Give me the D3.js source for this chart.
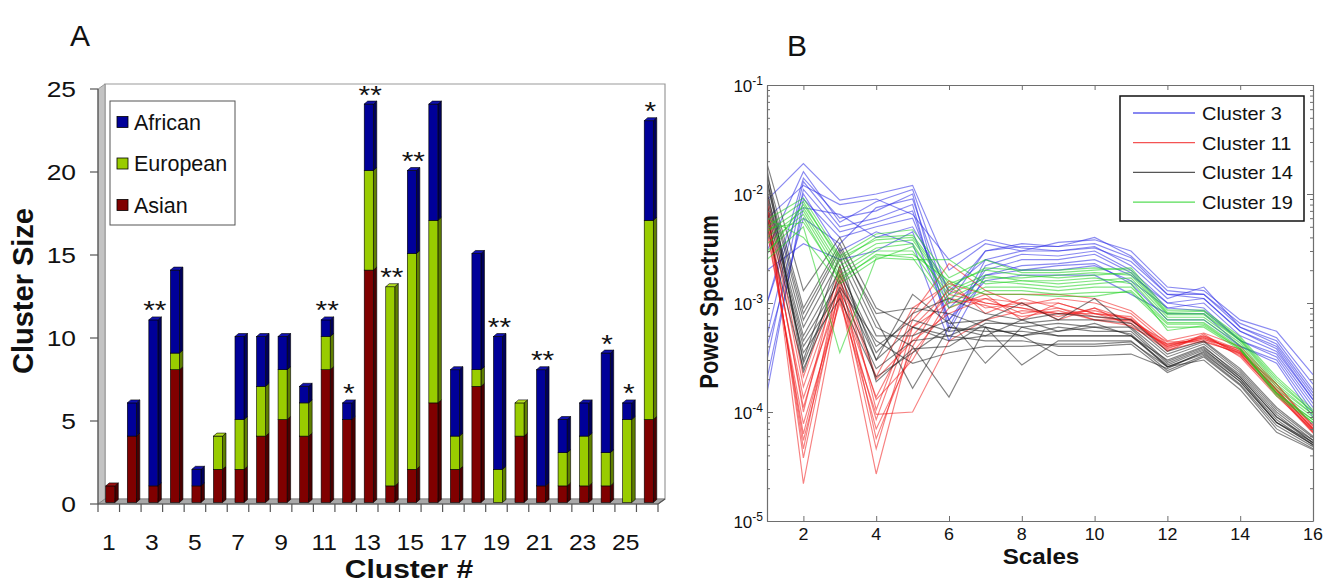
<!DOCTYPE html>
<html>
<head>
<meta charset="utf-8">
<script src="https://cdn.jsdelivr.net/npm/d3@7"></script>
<style>
  body { margin: 0; background: #fff; }
  svg { display: block; }
  text { font-family: "Liberation Sans", Arial, sans-serif; fill: #111; }
</style>
</head>
<body>
<svg id="chart" width="1326" height="583"></svg>
<script>
// ---------- Panel A: ancestry composition of each cluster ----------
const clusters = d3.range(1, 27);
const asian    = [1, 4, 1, 8, 1, 2, 2, 4, 5, 4, 8, 5, 14, 1, 2, 6, 2, 7, 0, 4, 1, 1, 1, 1, 0, 5];
const european = [0, 0, 0, 1, 0, 2, 3, 3, 3, 2, 2, 0, 6, 12, 13, 11, 2, 1, 2, 2, 0, 2, 3, 2, 5, 12];
const african  = [0, 2, 10, 5, 1, 0, 5, 3, 2, 1, 1, 1, 4, 0, 5, 7, 4, 7, 8, 0, 7, 2, 2, 6, 1, 6];
const significance = ["", "", "**", "", "", "", "", "", "", "", "**", "*", "**", "**", "**", "", "", "", "**", "", "**", "", "", "*", "*", "*"];
const sizeTicks = [0, 5, 10, 15, 20, 25];
const groupNames = ["Asian", "European", "African"];

// ---------- Panel B: power spectra of the members of four clusters ----------
const scales = d3.range(1, 17);
const powerTicks = [1e-5, 1e-4, 1e-3, 1e-2, 1e-1];
const scaleTicks = [2, 4, 6, 8, 10, 12, 14, 16];

const cluster3 = [
  [8.8e-3, 1.9e-2, 8.8e-3, 1.0e-2, 1.2e-2, 2.0e-3, 3.5e-3, 3.0e-3, 3.6e-3, 3.8e-3, 3.0e-3, 1.4e-3, 1.3e-3, 7.0e-4, 5.5e-4, 2.2e-4],
  [3.0e-3, 1.6e-2, 5.5e-3, 8.5e-3, 1.1e-2, 1.2e-3, 3.0e-3, 3.3e-3, 3.3e-3, 3.5e-3, 2.6e-3, 1.2e-3, 1.2e-3, 6.5e-4, 4.8e-4, 1.8e-4],
  [1.0e-3, 1.4e-2, 6.0e-3, 7.0e-3, 1.0e-2, 6.0e-4, 2.5e-3, 3.0e-3, 3.0e-3, 3.3e-3, 2.2e-3, 1.1e-3, 1.4e-3, 6.0e-4, 4.5e-4, 1.6e-4],
  [5.0e-4, 1.3e-2, 5.0e-3, 6.0e-3, 8.0e-3, 5.5e-4, 2.2e-3, 2.8e-3, 2.7e-3, 3.0e-3, 2.0e-3, 1.0e-3, 1.1e-3, 5.5e-4, 4.0e-4, 1.4e-4],
  [3.0e-4, 1.1e-2, 4.5e-3, 5.5e-3, 7.0e-3, 7.0e-4, 2.0e-3, 2.5e-3, 2.5e-3, 2.8e-3, 1.9e-3, 9.0e-4, 1.0e-3, 5.0e-4, 3.6e-4, 1.3e-4],
  [1.5e-4, 9.0e-3, 4.0e-3, 5.0e-3, 6.0e-3, 9.0e-4, 1.8e-3, 2.2e-3, 2.3e-3, 2.5e-3, 1.8e-3, 1.0e-3, 9.0e-4, 4.5e-4, 3.4e-4, 1.2e-4],
  [2.0e-4, 7.5e-3, 6.5e-3, 4.0e-3, 5.0e-3, 1.3e-3, 2.5e-3, 2.0e-3, 2.0e-3, 2.2e-3, 1.6e-3, 9.0e-4, 8.5e-4, 4.5e-4, 3.2e-4, 1.1e-4],
  [4.0e-4, 6.0e-3, 3.5e-3, 7.5e-3, 9.0e-3, 1.0e-3, 3.0e-3, 3.5e-3, 3.3e-3, 4.0e-3, 2.7e-3, 1.3e-3, 1.2e-3, 6.0e-4, 4.2e-4, 1.5e-4],
  [2.0e-3, 3.5e-3, 2.5e-3, 3.0e-3, 4.5e-3, 7.0e-4, 1.6e-3, 1.8e-3, 1.8e-3, 1.8e-3, 1.2e-3, 8.0e-4, 8.0e-4, 4.0e-4, 3.0e-4, 1.0e-4],
  [6.0e-3, 1.2e-2, 8.0e-3, 9.0e-3, 6.5e-3, 2.5e-3, 3.8e-3, 3.2e-3, 3.0e-3, 3.2e-3, 2.4e-3, 1.2e-3, 1.1e-3, 5.5e-4, 3.8e-4, 1.3e-4],
  [1.0e-3, 1.0e-2, 3.0e-3, 4.5e-3, 3.5e-3, 4.5e-4, 1.8e-3, 2.0e-3, 2.2e-3, 2.3e-3, 1.5e-3, 7.0e-4, 7.0e-4, 4.0e-4, 2.8e-4, 9.0e-5]
];
const cluster11 = [
  [9.0e-3, 2.2e-5, 1.2e-3, 2.7e-5, 5.0e-4, 1.2e-3, 1.0e-3, 9.0e-4, 8.0e-4, 8.0e-4, 6.5e-4, 4.0e-4, 4.8e-4, 3.6e-4, 1.6e-4, 7.0e-5],
  [8.0e-3, 3.8e-5, 1.4e-3, 4.6e-5, 6.0e-4, 1.0e-3, 1.1e-3, 8.0e-4, 9.0e-4, 7.0e-4, 7.0e-4, 3.8e-4, 5.0e-4, 3.4e-4, 1.5e-4, 6.5e-5],
  [7.0e-3, 4.6e-5, 1.8e-3, 5.7e-5, 4.0e-4, 1.4e-3, 9.0e-4, 1.0e-3, 7.0e-4, 9.0e-4, 6.0e-4, 4.2e-4, 4.6e-4, 3.8e-4, 1.7e-4, 7.5e-5],
  [6.0e-3, 5.5e-5, 1.1e-3, 7.0e-5, 3.5e-4, 9.0e-4, 1.2e-3, 7.0e-4, 1.0e-3, 8.0e-4, 7.5e-4, 3.6e-4, 5.2e-4, 3.2e-4, 1.4e-4, 6.8e-5],
  [5.0e-3, 6.3e-5, 1.3e-3, 8.5e-5, 7.0e-4, 1.6e-3, 8.0e-4, 1.1e-3, 9.0e-4, 7.5e-4, 6.8e-4, 4.4e-4, 4.4e-4, 3.5e-4, 1.8e-4, 7.2e-5],
  [4.5e-3, 7.8e-5, 1.0e-3, 9.5e-5, 1.0e-4, 4.5e-4, 7.0e-4, 8.5e-4, 8.0e-4, 8.5e-4, 7.0e-4, 3.9e-4, 4.7e-4, 3.3e-4, 1.5e-4, 6.6e-5],
  [7.5e-3, 1.0e-4, 2.2e-3, 1.05e-4, 8.0e-4, 2.3e-3, 1.3e-3, 9.5e-4, 1.1e-3, 1.0e-3, 8.0e-4, 4.2e-4, 5.0e-4, 3.7e-4, 1.6e-4, 7.0e-5],
  [6.5e-3, 1.1e-4, 1.5e-3, 1.3e-4, 3.0e-4, 1.1e-3, 9.5e-4, 7.5e-4, 8.5e-4, 7.0e-4, 6.2e-4, 3.7e-4, 4.5e-4, 3.4e-4, 1.45e-4, 6.4e-5],
  [5.5e-3, 1.35e-4, 1.2e-3, 1.37e-4, 6.0e-4, 1.3e-3, 1.0e-3, 9.0e-4, 7.5e-4, 9.0e-4, 7.0e-4, 4.0e-4, 4.9e-4, 3.6e-4, 1.55e-4, 6.8e-5],
  [8.5e-3, 1.7e-4, 1.6e-3, 2.0e-4, 4.5e-4, 8.0e-4, 1.1e-3, 1.0e-3, 1.0e-3, 8.0e-4, 7.2e-4, 4.1e-4, 4.8e-4, 3.5e-4, 1.6e-4, 7.0e-5],
  [1.0e-2, 2.1e-4, 1.9e-3, 2.1e-4, 9.0e-4, 1.5e-3, 1.2e-3, 1.2e-3, 1.2e-3, 1.1e-3, 8.5e-4, 4.5e-4, 5.3e-4, 4.0e-4, 1.8e-4, 7.5e-5]
];
const cluster14 = [
  [1.9e-2, 1.3e-3, 4.0e-3, 9.0e-4, 6.0e-4, 5.0e-4, 7.0e-4, 6.0e-4, 6.5e-4, 6.0e-4, 6.0e-4, 3.2e-4, 4.2e-4, 2.3e-4, 1.0e-4, 5.5e-5],
  [1.5e-2, 9.0e-4, 3.5e-3, 7.0e-4, 1.65e-4, 6.0e-4, 5.0e-4, 7.0e-4, 5.5e-4, 6.5e-4, 5.0e-4, 3.0e-4, 4.0e-4, 2.1e-4, 9.0e-5, 5.2e-5],
  [1.2e-2, 7.0e-4, 3.0e-3, 6.0e-4, 4.0e-4, 1.37e-4, 6.0e-4, 5.0e-4, 6.0e-4, 5.5e-4, 5.5e-4, 2.8e-4, 3.8e-4, 2.0e-4, 8.5e-5, 5.0e-5],
  [1.0e-2, 6.0e-4, 2.5e-3, 5.0e-4, 5.0e-4, 7.0e-4, 2.8e-4, 6.0e-4, 5.0e-4, 5.0e-4, 5.0e-4, 2.6e-4, 3.5e-4, 1.9e-4, 8.0e-5, 5.3e-5],
  [9.0e-3, 5.0e-4, 2.0e-3, 4.0e-4, 7.0e-4, 5.5e-4, 6.0e-4, 2.7e-4, 4.5e-4, 4.5e-4, 4.5e-4, 2.4e-4, 3.3e-4, 1.8e-4, 7.5e-5, 4.8e-5],
  [8.0e-3, 4.5e-4, 1.6e-3, 3.0e-4, 6.0e-4, 4.5e-4, 5.0e-4, 5.0e-4, 3.3e-4, 3.3e-4, 3.4e-4, 2.5e-4, 3.6e-4, 2.0e-4, 8.0e-5, 5.0e-5],
  [7.0e-3, 4.0e-4, 1.3e-3, 2.5e-4, 4.5e-4, 5.0e-4, 4.5e-4, 4.5e-4, 4.0e-4, 4.0e-4, 4.2e-4, 2.3e-4, 3.2e-4, 1.75e-4, 7.0e-5, 4.6e-5],
  [6.0e-3, 3.5e-4, 1.1e-3, 2.1e-4, 3.5e-4, 6.0e-4, 5.5e-4, 5.5e-4, 5.0e-4, 5.0e-4, 5.0e-4, 2.7e-4, 3.7e-4, 2.1e-4, 9.0e-5, 5.5e-5],
  [1.1e-2, 3.0e-4, 2.8e-3, 1.9e-4, 3.8e-4, 4.0e-4, 6.5e-4, 6.5e-4, 7.0e-4, 7.0e-4, 6.5e-4, 3.4e-4, 4.4e-4, 2.4e-4, 1.05e-4, 5.8e-5],
  [1.4e-2, 2.8e-4, 1.8e-3, 3.5e-4, 8.0e-4, 1.1e-3, 8.0e-4, 7.0e-4, 8.0e-4, 7.5e-4, 7.0e-4, 3.6e-4, 4.5e-4, 2.5e-4, 1.1e-4, 6.0e-5],
  [5.0e-3, 2.5e-4, 1.4e-3, 4.5e-4, 2.8e-4, 3.5e-4, 4.0e-4, 4.0e-4, 4.2e-4, 4.2e-4, 4.4e-4, 2.6e-4, 3.0e-4, 1.6e-4, 6.5e-5, 4.5e-5],
  [1.7e-2, 2.3e-4, 2.2e-3, 3.0e-4, 1.2e-3, 6.5e-4, 7.0e-4, 1.0e-3, 7.0e-4, 1.1e-3, 5.8e-4, 2.9e-4, 3.9e-4, 2.2e-4, 9.5e-5, 5.2e-5],
  [1.3e-2, 8.0e-4, 3.2e-3, 8.0e-4, 9.0e-4, 8.0e-4, 6.0e-4, 5.0e-4, 5.5e-4, 6.0e-4, 5.2e-4, 2.6e-4, 3.4e-4, 1.9e-4, 8.0e-5, 5.0e-5]
];
const cluster19 = [
  [5.8e-3, 9.2e-3, 2.7e-3, 4.3e-3, 4.7e-3, 1.7e-3, 2.5e-3, 1.9e-3, 1.9e-3, 2.0e-3, 2.1e-3, 8.6e-4, 8.6e-4, 4.9e-4, 2.1e-4, 1.05e-4],
  [5.0e-3, 8.5e-3, 2.4e-3, 4.0e-3, 4.2e-3, 1.5e-3, 2.0e-3, 1.8e-3, 1.7e-3, 1.8e-3, 1.9e-3, 8.0e-4, 8.0e-4, 4.6e-4, 1.9e-4, 1.0e-4],
  [4.5e-3, 7.5e-3, 2.2e-3, 3.5e-3, 3.8e-3, 1.3e-3, 1.8e-3, 1.6e-3, 1.5e-3, 1.6e-3, 1.7e-3, 7.4e-4, 7.4e-4, 4.3e-4, 1.7e-4, 9.5e-5],
  [4.0e-3, 7.0e-3, 2.0e-3, 3.2e-3, 3.5e-3, 1.1e-3, 1.6e-3, 1.5e-3, 1.4e-3, 1.5e-3, 1.6e-3, 7.0e-4, 7.0e-4, 4.1e-4, 1.6e-4, 9.0e-5],
  [3.5e-3, 6.5e-3, 1.8e-3, 3.0e-3, 3.0e-3, 1.0e-3, 1.4e-3, 1.4e-3, 1.3e-3, 1.4e-3, 1.4e-3, 6.6e-4, 6.6e-4, 3.9e-4, 1.5e-4, 8.5e-5],
  [3.0e-3, 6.0e-3, 1.6e-3, 2.8e-3, 2.6e-3, 9.0e-4, 1.3e-3, 1.3e-3, 1.2e-3, 1.25e-3, 1.25e-3, 6.0e-4, 6.0e-4, 3.7e-4, 1.4e-4, 8.0e-5],
  [2.5e-3, 5.0e-3, 3.5e-4, 2.6e-3, 2.5e-3, 2.5e-3, 1.5e-3, 1.6e-3, 1.6e-3, 1.7e-3, 1.5e-3, 5.6e-4, 6.2e-4, 3.8e-4, 1.5e-4, 8.0e-5],
  [6.0e-3, 4.0e-3, 1.5e-3, 2.5e-3, 3.3e-3, 1.2e-3, 1.7e-3, 1.7e-3, 1.8e-3, 1.9e-3, 1.8e-3, 7.8e-4, 7.8e-4, 4.5e-4, 1.8e-4, 9.5e-5],
  [2.8e-3, 8.0e-3, 2.6e-3, 3.8e-3, 4.0e-3, 1.4e-3, 2.1e-3, 2.0e-3, 2.0e-3, 2.1e-3, 2.0e-3, 8.2e-4, 8.4e-4, 4.7e-4, 2.0e-4, 1.0e-4],
  [4.8e-3, 5.5e-3, 1.7e-3, 2.7e-3, 2.8e-3, 1.6e-3, 1.2e-3, 1.2e-3, 1.15e-3, 1.15e-3, 1.3e-3, 6.4e-4, 6.4e-4, 3.8e-4, 1.45e-4, 8.5e-5]
];
const seriesNames = ["Cluster 3", "Cluster 11", "Cluster 14", "Cluster 19"];

// ---------------------------------------------------------------------
const svg = d3.select("#chart");

// small helper for text that is set a little wider than the font's natural width
function label(g, x, y, str, size, opts = {}) {
  const sx = opts.sx || 1;
  const rot = opts.rotate ? ` rotate(${opts.rotate})` : "";
  return g.append("text")
    .attr("transform", `translate(${x},${y}) scale(${sx},1)${rot}`)
    .attr("text-anchor", opts.anchor || "start")
    .attr("font-size", size)
    .attr("font-weight", opts.bold ? "bold" : "normal")
    .attr("dy", opts.dy || null)
    .text(str);
}

// ================= Panel A =================
const gA = svg.append("g");
const xA = d3.scaleBand().domain(clusters).range([98, 658]).padding(0);
const yA = d3.scaleLinear().domain([0, 25]).range([504, 89]);
const wall = { dx: 7, dy: 5 };
const bw = xA.bandwidth();
const barW = bw * 0.42, barOff = bw * 0.36, bdx = 3.5, bdy = 3;

const poly = pts => "M" + pts.map(p => p.join(",")).join("L") + "Z";

// back wall, side wall and floor
gA.append("path")
  .attr("d", poly([[98 + wall.dx, yA(25) - wall.dy], [658 + wall.dx, yA(25) - wall.dy], [658 + wall.dx, yA(0) - wall.dy], [98 + wall.dx, yA(0) - wall.dy]]))
  .attr("fill", "#fff").attr("stroke", "#9a9a9a").attr("stroke-width", 1.2);
gA.append("path")
  .attr("d", poly([[98, yA(25)], [98 + wall.dx, yA(25) - wall.dy], [98 + wall.dx, yA(0) - wall.dy], [98, yA(0)]]))
  .attr("fill", "#c3c3c3").attr("stroke", "#8c8c8c").attr("stroke-width", 0.8);
gA.append("path")
  .attr("d", poly([[98, yA(0)], [98 + wall.dx, yA(0) - wall.dy], [658 + wall.dx, yA(0) - wall.dy], [658, yA(0)]]))
  .attr("fill", "#a9a9a9").attr("stroke", "#808080").attr("stroke-width", 0.8);

// stacked 3-D bars
const palette = {
  Asian:    { front: "#800000", side: "#4a0000", top: "#9a1010" },
  European: { front: "#99cc00", side: "#5f7f00", top: "#b5e020" },
  African:  { front: "#000099", side: "#00005a", top: "#1010b0" }
};
const stacks = clusters.map((c, i) => {
  const vals = [asian[i], european[i], african[i]];
  let acc = 0;
  const segs = [];
  vals.forEach((v, k) => {
    if (v > 0) segs.push({ name: groupNames[k], y0: acc, y1: acc + v });
    acc += v;
  });
  return { c, total: acc, segs, sig: significance[i] };
});

const barG = gA.selectAll("g.bar").data(stacks).join("g").attr("class", "bar");
barG.each(function (d) {
  const g = d3.select(this);
  const x0 = xA(d.c) + barOff, x1 = x0 + barW;
  d.segs.forEach(s => {
    const yt = yA(s.y1) - 1.5, yb = yA(s.y0) - 1.5;
    const col = palette[s.name];
    g.append("path").attr("d", poly([[x1, yt], [x1 + bdx, yt - bdy], [x1 + bdx, yb - bdy], [x1, yb]]))
      .attr("fill", col.side).attr("stroke", "#000").attr("stroke-width", 0.6);
    g.append("rect").attr("x", x0).attr("y", yt).attr("width", barW).attr("height", yb - yt)
      .attr("fill", col.front).attr("stroke", "#000").attr("stroke-width", 0.6);
  });
  const last = d.segs[d.segs.length - 1];
  const yt = yA(d.total) - 1.5;
  g.append("path").attr("d", poly([[x0, yt], [x0 + bdx, yt - bdy], [x1 + bdx, yt - bdy], [x1, yt]]))
    .attr("fill", palette[last.name].top).attr("stroke", "#000").attr("stroke-width", 0.6);
  if (d.sig) label(g, x0 + barW / 2 + 1.5, yA(d.total) - 2, d.sig, 26, { anchor: "middle", sx: 1.15 });
});

// axes of panel A
gA.append("line").attr("x1", 98).attr("x2", 98).attr("y1", yA(25)).attr("y2", yA(0)).attr("stroke", "#555").attr("stroke-width", 1.2);
gA.append("line").attr("x1", 98).attr("x2", 658).attr("y1", yA(0)).attr("y2", yA(0)).attr("stroke", "#555").attr("stroke-width", 1.2);
gA.append("line").attr("x1", 658).attr("x2", 658 + wall.dx).attr("y1", yA(0)).attr("y2", yA(0) - wall.dy).attr("stroke", "#555").attr("stroke-width", 1.2);
sizeTicks.forEach(t => {
  gA.append("line").attr("x1", 90).attr("x2", 98).attr("y1", yA(t)).attr("y2", yA(t)).attr("stroke", "#555").attr("stroke-width", 1.2);
  label(gA, 76, yA(t), String(t), 22, { anchor: "end", sx: 1.2, dy: "0.36em" });
});
clusters.concat([27]).forEach((c, i) => {
  const x = i < clusters.length ? xA(c) : xA.range()[1];
  gA.append("line").attr("x1", x).attr("x2", x).attr("y1", yA(0)).attr("y2", yA(0) + 8).attr("stroke", "#555").attr("stroke-width", 1.2);
});
clusters.filter(c => c % 2 === 1).forEach(c => {
  label(gA, xA(c) + bw / 2, 550, String(c), 22, { anchor: "middle", sx: 1.12 });
});
label(gA, 409, 578, "Cluster #", 25, { anchor: "middle", bold: true, sx: 1.2 });
label(gA, 33, 291, "Cluster Size", 29, { anchor: "middle", bold: true, rotate: -90 });
label(gA, 80, 46, "A", 30, { anchor: "middle" });

// legend of panel A
const legA = gA.append("g");
legA.append("rect").attr("x", 110).attr("y", 101).attr("width", 125).attr("height", 124)
  .attr("fill", "#fff").attr("stroke", "#555").attr("stroke-width", 1);
["African", "European", "Asian"].forEach((n, i) => {
  const y = 122 + i * 41.5;
  legA.append("rect").attr("x", 117).attr("y", y - 5.5).attr("width", 11).attr("height", 11)
    .attr("fill", palette[n].front).attr("stroke", "#000").attr("stroke-width", 0.8);
  label(legA, 134, y, n, 21.5, { dy: "0.36em" });
});

// ================= Panel B =================
const gB = svg.append("g");
const xB = d3.scaleLinear().domain([1, 16]).range([767, 1313]);
const yB = d3.scaleLog().domain([1e-5, 1e-1]).range([521, 85]);

svg.append("defs").append("clipPath").attr("id", "plotB")
  .append("rect").attr("x", 767).attr("y", 85).attr("width", 546).attr("height", 436);

const colorsB = ["#2a2ae6", "#f01a1a", "#1e1e1e", "#1ed21e"];
const groupsB = [cluster3, cluster11, cluster14, cluster19];
const lineB = d3.line().x((d, i) => xB(scales[i])).y(d => yB(d));
const linesG = gB.append("g").attr("clip-path", "url(#plotB)");
groupsB.forEach((grp, gi) => {
  linesG.append("g").selectAll("path").data(grp).join("path")
    .attr("d", lineB)
    .attr("fill", "none")
    .attr("stroke", colorsB[gi])
    .attr("stroke-opacity", 0.55)
    .attr("stroke-width", 1.15);
});

// frame and ticks
const axisCol = "#6e6e6e";
const minor = [];
[1e-5, 1e-4, 1e-3, 1e-2].forEach(dec => d3.range(2, 10).forEach(m => minor.push(dec * m)));

function styleAxis(g) {
  g.selectAll("path.domain").attr("stroke", axisCol).attr("stroke-width", 1.2);
  g.selectAll(".tick line").attr("stroke", axisCol).attr("stroke-width", 1);
  g.selectAll(".tick text").remove();
}
gB.append("g").attr("transform", "translate(0,521)")
  .call(d3.axisBottom(xB).tickValues(scaleTicks).tickSizeInner(-5).tickSizeOuter(0)).call(styleAxis);
gB.append("g").attr("transform", "translate(0,85)")
  .call(d3.axisTop(xB).tickValues(scaleTicks).tickSizeInner(-5).tickSizeOuter(0)).call(styleAxis);
gB.append("g").attr("transform", "translate(767,0)")
  .call(d3.axisLeft(yB).tickValues(powerTicks).tickSizeInner(-6).tickSizeOuter(0)).call(styleAxis);
gB.append("g").attr("transform", "translate(1313,0)")
  .call(d3.axisRight(yB).tickValues(powerTicks).tickSizeInner(-6).tickSizeOuter(0)).call(styleAxis);
gB.append("g").attr("transform", "translate(767,0)")
  .call(d3.axisLeft(yB).tickValues(minor).tickSizeInner(-3).tickSizeOuter(0)).call(styleAxis)
  .select("path.domain").remove();
gB.append("g").attr("transform", "translate(1313,0)")
  .call(d3.axisRight(yB).tickValues(minor).tickSizeInner(-3).tickSizeOuter(0)).call(styleAxis)
  .select("path.domain").remove();

// tick labels
scaleTicks.forEach(t => label(gB, xB(t), 540, String(t), 17, { anchor: "middle", sx: 1.05 }));
powerTicks.forEach(t => {
  const e = Math.round(Math.log10(t));
  const tx = gB.append("text").attr("x", 763).attr("y", yB(t) + 7).attr("text-anchor", "end");
  tx.append("tspan").attr("font-size", 17).text("10");
  tx.append("tspan").attr("font-size", 12).attr("dy", -7).text(String(e));
});
label(gB, 1041, 564, "Scales", 22, { anchor: "middle", bold: true, sx: 1.1 });
label(gB, 718, 302, "Power Spectrum", 22, { anchor: "middle", bold: true, sx: 1.15, rotate: -90 });
label(gB, 797, 56, "B", 30, { anchor: "middle" });

// legend of panel B
const legB = gB.append("g");
legB.append("rect").attr("x", 1120).attr("y", 96).attr("width", 184).attr("height", 125)
  .attr("fill", "#fff").attr("stroke", "#111").attr("stroke-width", 1.5);
seriesNames.forEach((n, i) => {
  const y = 113 + i * 29.7;
  legB.append("line").attr("x1", 1133).attr("x2", 1195).attr("y1", y).attr("y2", y)
    .attr("stroke", colorsB[i]).attr("stroke-opacity", 0.75).attr("stroke-width", 1.3);
  label(legB, 1202, y, n, 19, { dy: "0.36em", sx: 1.05 });
});
</script>
</body>
</html>
